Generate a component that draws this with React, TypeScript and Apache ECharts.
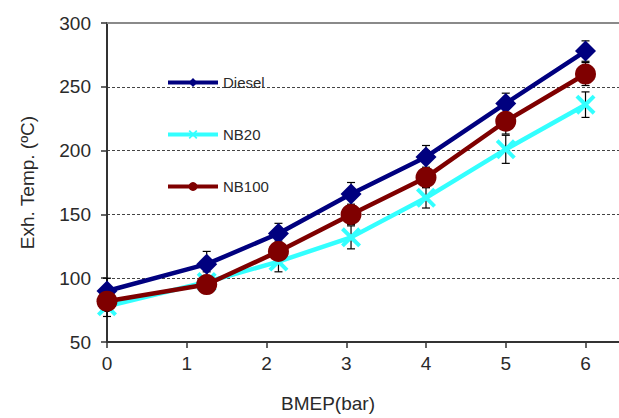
import React, { useEffect, useRef } from "react";
import * as echarts from "echarts";

const bmep = [0, 1.25, 2.15, 3.06, 4, 5, 6];
const xTicks = [0, 1, 2, 3, 4, 5, 6];
const diesel = [90, 111, 135, 166, 195, 237, 278];
const nb20 = [78, 97, 113, 132, 163, 201, 236];
const nb100 = [82, 95, 121, 150, 179, 223, 260];
const dieselErr = [10, 10, 8, 9, 9, 8, 8];
const nb20Err = [8, 8, 8, 9, 8, 11, 10];
const nb100Err = [8, 7, 8, 8, 8, 10, 9];
const seriesNames = ["Diesel", "NB20", "NB100"];

const FONT = "'Liberation Sans', Arial, sans-serif";
const X_PATH =
  "path://M0,1.4 L1.4,0 L5,3.6 L8.6,0 L10,1.4 L6.4,5 L10,8.6 L8.6,10 L5,6.4 L1.4,10 L0,8.6 L3.6,5 Z";

function errData(vals: number[], errs: number[]) {
  return bmep.map((x, i) => [x, vals[i] - errs[i], vals[i] + errs[i]]);
}

function errSeries(vals: number[], errs: number[], z: number) {
  return {
    type: "custom",
    z,
    silent: true,
    data: errData(vals, errs),
    renderItem: (params: any, api: any) => {
      const x = api.value(0);
      const lo = api.coord([x, api.value(1)]);
      const hi = api.coord([x, api.value(2)]);
      const cw = 4;
      const style = { stroke: "#000", lineWidth: 1.2 };
      return {
        type: "group",
        children: [
          { type: "line", shape: { x1: lo[0], y1: lo[1], x2: hi[0], y2: hi[1] }, style },
          { type: "line", shape: { x1: lo[0] - cw, y1: lo[1], x2: lo[0] + cw, y2: lo[1] }, style },
          { type: "line", shape: { x1: hi[0] - cw, y1: hi[1], x2: hi[0] + cw, y2: hi[1] }, style },
        ],
      };
    },
  };
}

export default function App() {
  const ref = useRef<HTMLDivElement>(null);
  useEffect(() => {
    if (!ref.current) return;
    const chart = echarts.init(ref.current, null, { renderer: "svg" });
    const labelColor = "#2a2a2a";
    chart.setOption({
      animation: false,
      backgroundColor: "#fff",
      textStyle: { fontFamily: FONT },
      grid: { left: 107, top: 23, right: 0, bottom: 76 },
      legend: {
        orient: "vertical",
        left: 161,
        top: 70,
        itemWidth: 50,
        itemHeight: 11,
        itemGap: 37,
        data: seriesNames,
        lineStyle: { width: 4 },
        textStyle: { fontSize: 15, color: labelColor, fontFamily: FONT },
      },
      xAxis: [
        {
          type: "value",
          min: 0,
          max: 6.42,
          axisLine: { show: true, onZero: false, lineStyle: { color: "#333", width: 2 } },
          axisTick: { show: true, length: 6, customValues: xTicks, lineStyle: { color: "#333", width: 1.5 } },
          axisLabel: {
            customValues: xTicks,
            margin: 12,
            fontSize: 19,
            color: labelColor,
            fontFamily: FONT,
          },
          splitLine: { show: false },
        },
        {
          type: "value",
          position: "top",
          min: 0,
          max: 6.42,
          axisLine: { show: true, onZero: false, lineStyle: { color: "#8a8a8a", width: 2 } },
          axisTick: { show: false },
          axisLabel: { show: false },
          splitLine: { show: false },
        },
      ],
      yAxis: {
        type: "value",
        min: 50,
        max: 300,
        interval: 50,
        name: "Exh. Temp. (ºC)",
        nameLocation: "middle",
        nameGap: 70,
        nameTextStyle: { fontSize: 19, color: labelColor, fontFamily: FONT },
        axisLine: { show: true, lineStyle: { color: "#333", width: 2 } },
        axisTick: { show: true, length: 6, lineStyle: { color: "#333", width: 1.5 } },
        axisLabel: { margin: 16, fontSize: 19, color: labelColor, fontFamily: FONT },
        splitLine: {
          show: true,
          lineStyle: { color: "#444", type: [3, 2], width: 1 },
        },
      },
      graphic: [
        {
          type: "text",
          left: 281,
          top: 394,
          style: { text: "BMEP(bar)", fontSize: 19, fill: labelColor, fontFamily: FONT },
        },
      ],
      series: [
        errSeries(diesel, dieselErr, 1),
        errSeries(nb20, nb20Err, 1),
        errSeries(nb100, nb100Err, 1),
        {
          name: "Diesel",
          type: "line",
          z: 3,
          data: bmep.map((x, i) => [x, diesel[i]]),
          symbol: "diamond",
          symbolSize: 21,
          lineStyle: { color: "#00007f", width: 4.5 },
          itemStyle: { color: "#00007f" },
        },
        {
          name: "NB20",
          type: "line",
          z: 4,
          data: bmep.map((x, i) => [x, nb20[i]]),
          symbol: X_PATH,
          symbolSize: 20,
          lineStyle: { color: "#33ffff", width: 4.5 },
          itemStyle: { color: "#33ffff" },
        },
        {
          name: "NB100",
          type: "line",
          z: 5,
          data: bmep.map((x, i) => [x, nb100[i]]),
          symbol: "circle",
          symbolSize: 21,
          lineStyle: { color: "#7f0000", width: 4.5 },
          itemStyle: { color: "#7f0000" },
        },
      ],
    });
    return () => chart.dispose();
  }, []);
  return <div ref={ref} style={{ width: 619, height: 418, position: "absolute", left: 0, top: 0 }} />;
}
